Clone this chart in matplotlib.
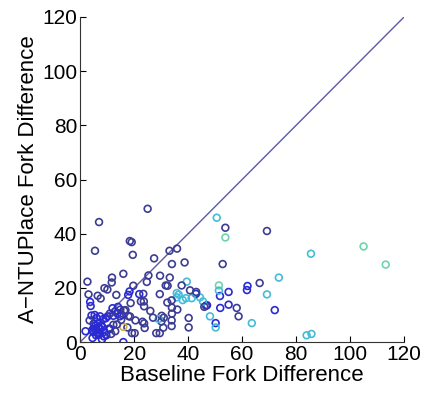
import numpy as np
import matplotlib.pyplot as plt

plt.rcParams['font.family'] = ['Liberation Sans', 'DejaVu Sans']

# baseline / A-NTUPlace fork difference, with a colour group per point
baseline = [7.0, 25.0, 5.5, 18.4, 19.1, 19.5, 27.4, 33.1, 35.9, 34.0, 38.7,
            50.6, 53.8, 53.8, 69.2, 52.8, 85.5, 105.0, 113.2, 73.6, 66.5,
            62.0, 61.8, 69.2, 72.1, 63.6, 83.9, 85.7, 55.0, 55.0, 58.0,
            58.7, 51.8, 51.9, 51.4, 51.4, 50.2, 50.2, 48.1, 46.6, 47.0,
            44.4, 42.9, 41.3, 40.7, 39.5, 37.6, 39.2, 35.8, 35.8, 40.2,
            40.2, 33.9, 34.0, 34.0, 33.9, 33.9, 31.7, 32.4, 33.2, 32.3,
            29.6, 29.5, 30.2, 30.1, 30.8, 29.1, 28.2, 29.5, 25.3, 24.7,
            23.4, 21.9, 23.6, 23.7, 23.1, 23.7, 23.9, 19.7, 18.3, 17.8,
            18.7, 17.9, 16.3, 16.0, 13.4, 11.8, 11.7, 9.0, 10.1, 7.6,
            6.5, 3.1, 2.7, 3.7, 3.9, 14.0, 14.9, 13.8, 14.7, 17.5,
            16.0, 19.2, 20.2, 16.0, 8.8, 8.1, 11.1, 12.3, 10.2, 8.6,
            7.4, 12.9, 12.3, 11.0, 15.5, 16.8, 18.5, 13.0, 9.5, 4.5,
            5.2, 6.0, 6.8, 7.5, 4.8, 5.6, 6.3, 7.0, 5.0, 5.9,
            6.6, 7.8, 4.2, 5.4, 6.1, 7.2, 8.3, 9.0, 3.5, 4.6,
            2.0, 10.8, 11.5, 13.6, 15.2, 12.0, 9.7, 36.5, 38.0, 43.0,
            45.5, 46.0, 20.5, 22.5, 27.0, 31.0, 36.0, 26.0]
fork_diff = [44.3, 49.2, 33.7, 37.3, 36.9, 32.2, 30.9, 33.7, 34.5, 28.8, 29.4,
             45.9, 42.2, 38.6, 41.0, 28.8, 32.6, 35.3, 28.6, 23.8, 21.8,
             20.7, 19.2, 17.6, 11.8, 7.0, 2.5, 3.0, 18.5, 13.8, 12.6,
             9.5, 17.0, 12.6, 20.9, 19.0, 7.0, 5.4, 9.5, 13.4, 13.6,
             16.5, 17.8, 16.2, 19.1, 22.3, 20.9, 16.2, 18.1, 16.5, 8.9,
             5.4, 15.4, 12.7, 10.5, 8.0, 5.9, 20.9, 20.8, 23.8, 14.6,
             24.5, 17.7, 9.7, 7.6, 5.3, 8.5, 3.3, 3.3, 24.6, 22.2,
             17.8, 17.7, 15.0, 13.2, 7.5, 6.9, 5.2, 20.8, 18.7, 17.4,
             14.4, 9.6, 11.6, 25.2, 17.4, 23.8, 22.0, 19.9, 19.4, 16.1,
             17.1, 17.6, 22.3, 14.8, 13.3, 13.0, 12.0, 10.5, 9.5, 5.4,
             5.6, 3.3, 3.3, 0.0, 2.1, 1.0, 4.8, 6.4, 9.5, 8.5,
             9.5, 11.3, 9.7, 10.5, 10.0, 11.8, 9.4, 4.0, 8.8, 4.5,
             5.0, 4.2, 5.5, 4.8, 3.8, 6.0, 3.5, 2.8, 6.8, 2.5,
             7.0, 6.2, 9.8, 10.0, 9.0, 3.0, 5.5, 3.8, 8.0, 1.5,
             4.0, 5.0, 3.0, 6.5, 8.2, 12.5, 2.5, 17.5, 15.5, 18.5,
             15.0, 13.0, 8.0, 15.0, 9.0, 9.0, 12.0, 11.5]
group = ['n', 'n', 'n', 'n', 'n', 'n', 'n', 'n', 'n', 'n', 'n',
         'c', 'n', 'm', 'n', 'n', 'c', 'm', 'm', 'c', 'n',
         'b', 'b', 'c', 'b', 'c', 'c', 'c', 'b', 'b', 'n',
         'n', 'b', 'b', 'm', 'c', 'b', 'c', 'c', 'n', 'b',
         'c', 'b', 'c', 'n', 'c', 'n', 'c', 'c', 'c', 'n',
         'n', 'n', 'n', 'n', 'n', 'n', 'n', 'n', 'n', 'n',
         'n', 'n', 'n', 'n', 'n', 'c', 'n', 'n', 'n', 'n',
         'n', 'b', 'n', 'n', 'n', 'n', 'n', 'n', 'b', 'b',
         'n', 'n', 'n', 'n', 'n', 'n', 'n', 'n', 'n', 'n',
         'n', 'n', 'n', 'b', 'b', 'b', 'n', 'b', 'n', 'n',
         'y', 'n', 'n', 'b', 'b', 'b', 'n', 'n', 'b', 'b',
         'b', 'n', 'b', 'n', 'b', 'n', 'n', 'n', 'b', 'b',
         'b', 'b', 'b', 'b', 'b', 'b', 'b', 'b', 'b', 'b',
         'b', 'b', 'b', 'b', 'b', 'b', 'b', 'b', 'n', 'b',
         'b', 'b', 'n', 'n', 'n', 'b', 'b', 'c', 'c', 'n',
         'c', 'n', 'n', 'n', 'n', 'n', 'n', 'n']
palette = {'n': '#3c3c92', 'b': '#2a2ad2', 'c': '#44bcd8',
           'm': '#6ed4ac', 'y': '#d0b048'}
colors = [palette[g] for g in group]

fig = plt.figure(figsize=(4.24, 3.95), dpi=100)
ax = fig.add_axes([0.189, 0.134, 0.764, 0.823])

ax.plot([0, 120], [0, 120], color='#5a5aa8', linewidth=1.0, zorder=1)
ax.scatter(baseline, fork_diff, s=24, facecolors='none', edgecolors=colors,
           linewidths=1.2, zorder=2)

ax.set_xlim(0, 120)
ax.set_ylim(0, 120)
ax.set_xticks(np.arange(0, 121, 20))
ax.set_yticks(np.arange(0, 121, 20))
ax.tick_params(direction='in', length=4, width=0.8, labelsize=15, pad=2)
ax.spines['top'].set_visible(False)
ax.spines['right'].set_visible(False)
for side in ['left', 'bottom']:
    ax.spines[side].set_color('#333333')
ax.set_xlabel('Baseline Fork Difference', fontsize=16, labelpad=1)
ax.set_ylabel('A\u2212NTUPlace Fork Difference', fontsize=16, labelpad=2)

fig.savefig('out.png', dpi=100)
